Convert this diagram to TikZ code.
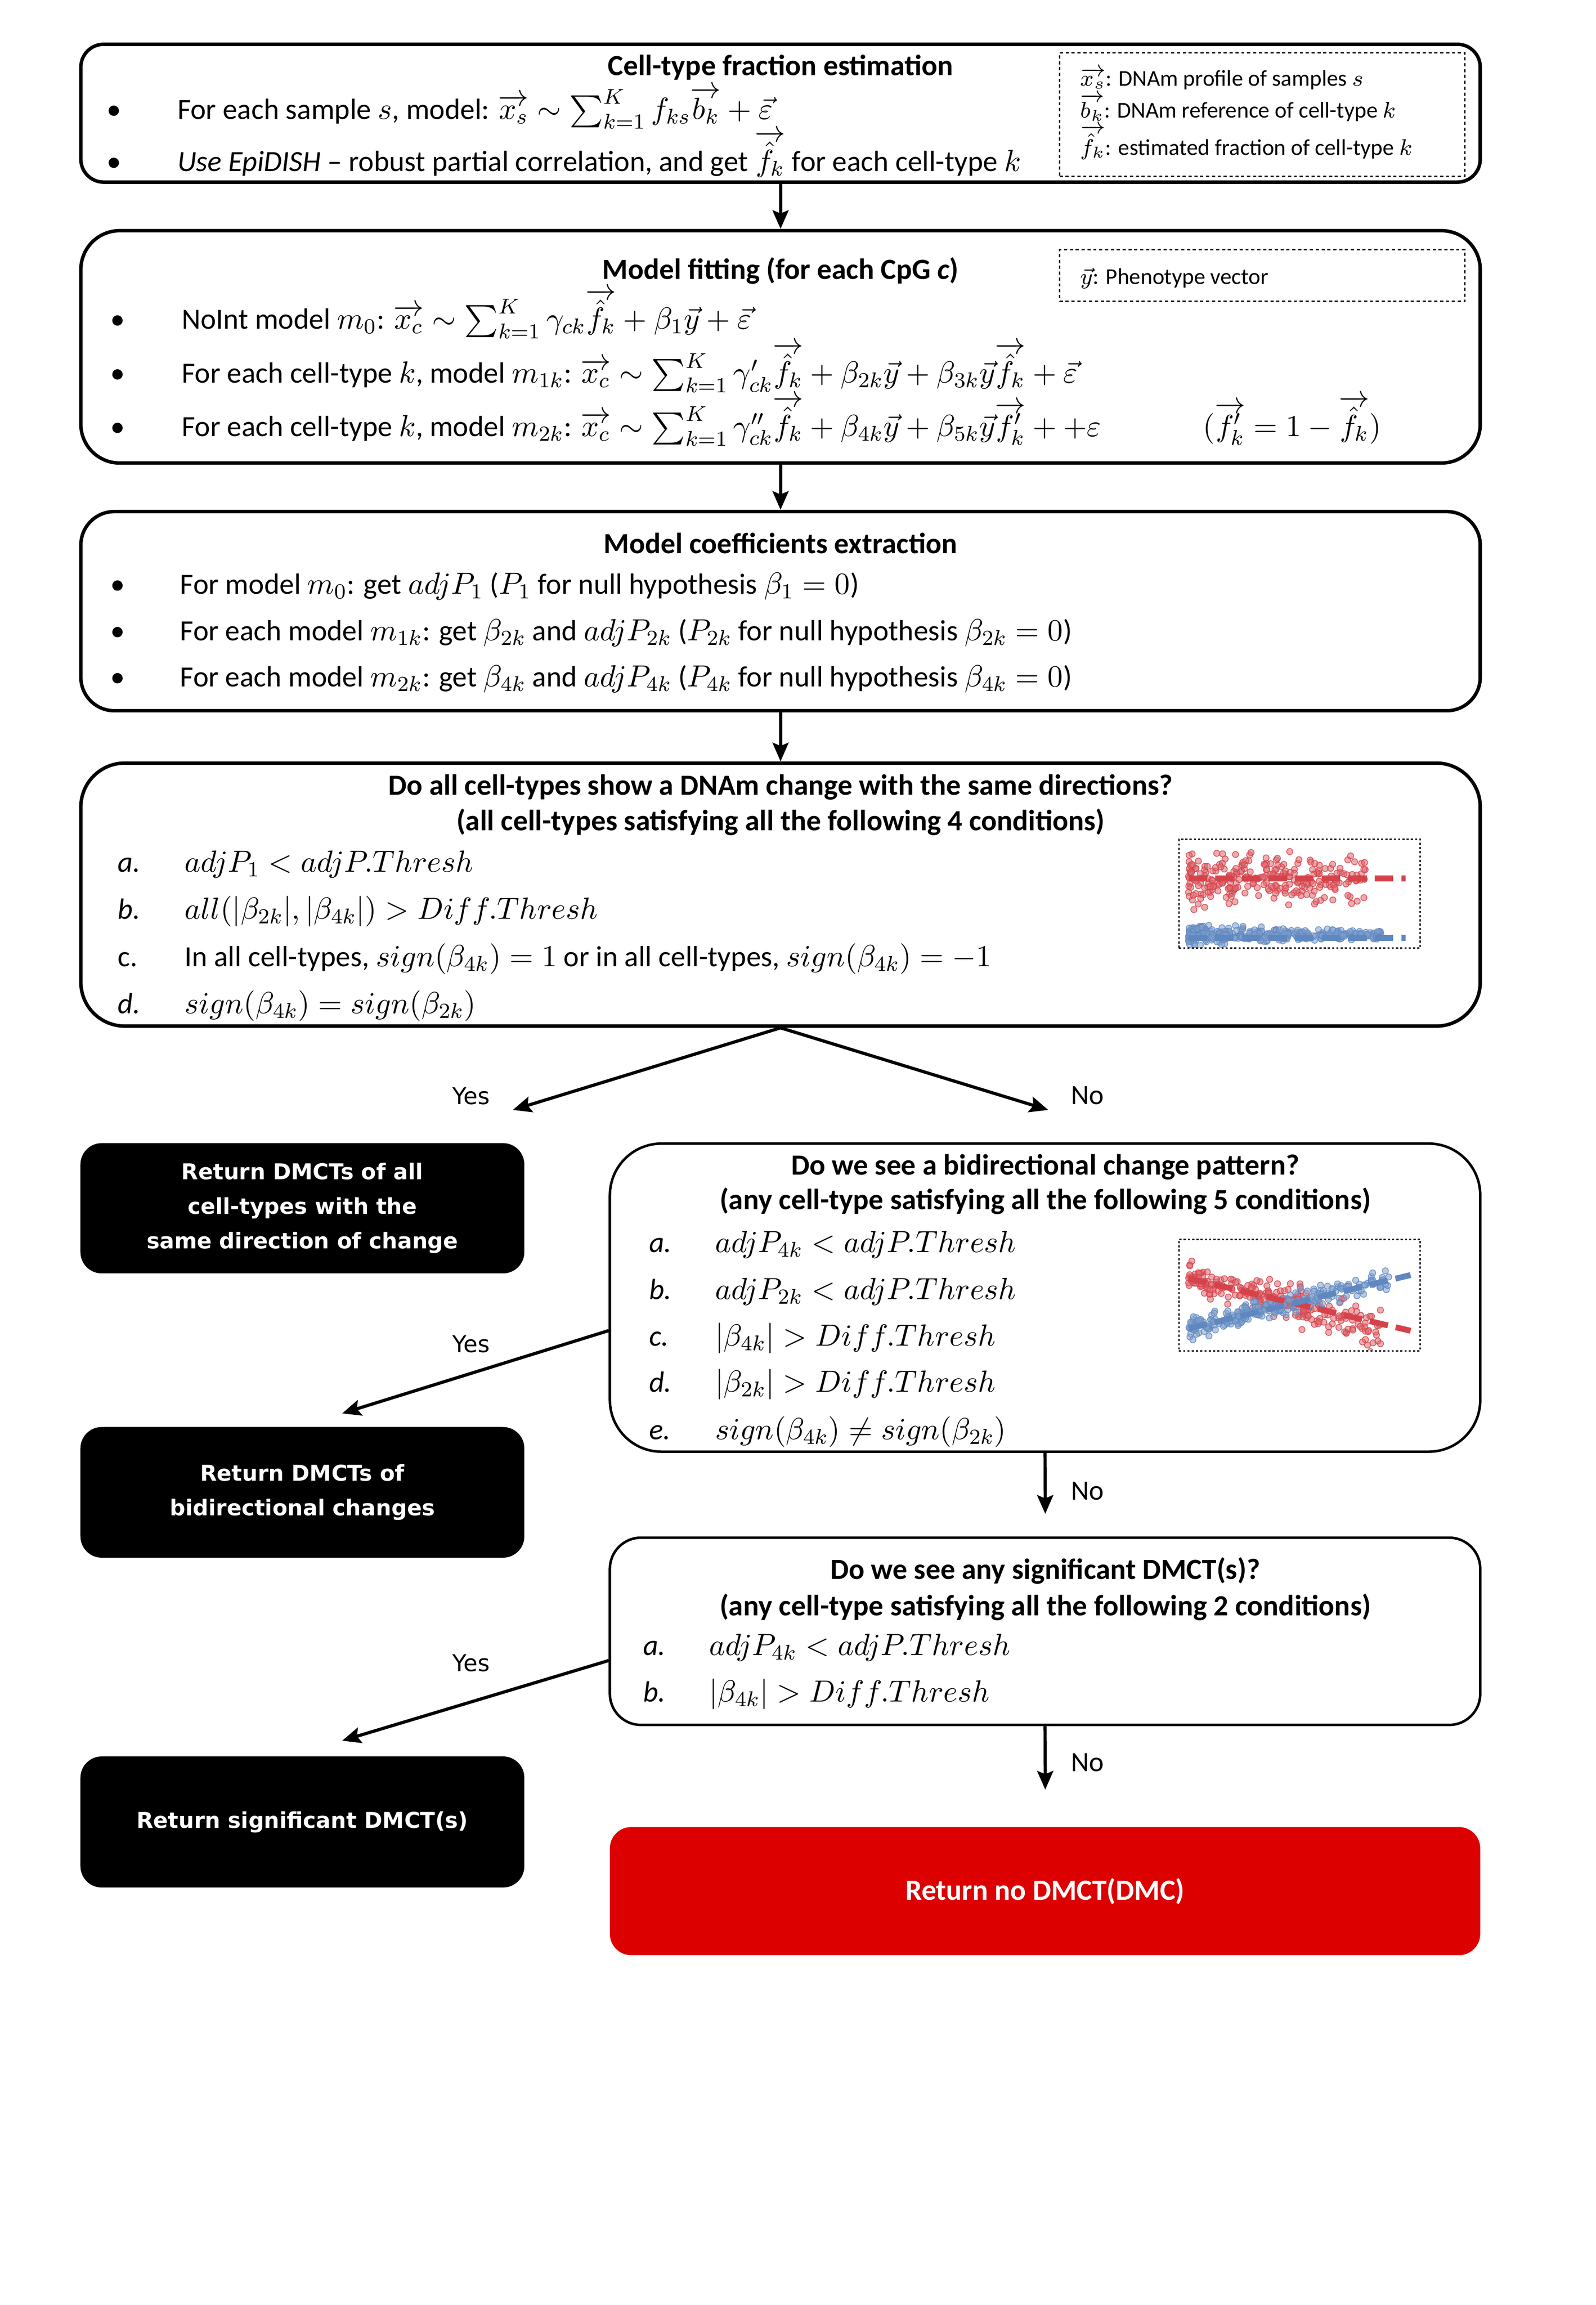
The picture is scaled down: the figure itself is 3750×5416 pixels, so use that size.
\RequirePackage{fix-cm}
\documentclass[tikz,border=0pt]{standalone}
\usepackage{amsmath}
\usepackage{fontspec}
\setmainfont{Carlito}
\newfontfamily\vfont{DejaVu Sans}
\usetikzlibrary{arrows.meta,fit,calc}
\definecolor{redpt}{RGB}{214,66,74}
\definecolor{bluept}{RGB}{96,136,192}
\definecolor{nored}{RGB}{221,0,0}
\newcommand\mth[1]{{\fontsize{11.5}{13.5}\selectfont$#1$}}
\newcommand\oa[1]{\smash{\overrightarrow{#1}}\vphantom{#1}}
\tikzset{
 box/.style={draw, line width=1.3pt, inner sep=0pt},
 boxb/.style={draw, line width=0.95pt, inner sep=0pt},
 blk/.style={fill=black, draw=none, inner sep=0pt, rounded corners=8pt},
 dbox/.style={draw, line width=0.5pt, dash pattern=on 1.2pt off 1pt, inner sep=0pt},
 pbox/.style={draw, line width=0.5pt, dash pattern=on 0.8pt off 0.8pt, inner sep=0pt},
 txt/.style={inner sep=0pt, font=\fontsize{11}{13}\selectfont},
 ttl/.style={inner sep=0pt, font=\fontsize{11}{13}\selectfont\bfseries},
 leg/.style={inner sep=0pt, font=\fontsize{8.5}{10}\selectfont},
 wtxt/.style={inner sep=0pt, text=white, align=center, font=\vfont\bfseries\fontsize{8.2}{13}\selectfont},
 rtxt/.style={inner sep=0pt, text=white, font=\fontsize{11}{13}\selectfont\bfseries},
 yeslab/.style={inner sep=0pt, font=\vfont\fontsize{8.7}{10}\selectfont},
 nolab/.style={inner sep=0pt, font=\fontsize{10.5}{12}\selectfont},
 arr/.style={line width=1.2pt, -{Stealth[length=7pt,width=6pt,inset=1.2pt]}},
 rdot/.style={line width=0.3pt, draw=redpt, fill=redpt!80, fill opacity=.55, draw opacity=.8},
 bdot/.style={line width=0.3pt, draw=bluept, fill=bluept!80, fill opacity=.55, draw opacity=.8},
 rtrend/.style={draw=redpt, line width=2.2pt, dash pattern=on 7pt off 3pt},
 btrend/.style={draw=bluept, line width=2.2pt, dash pattern=on 7pt off 3pt},
}
\begin{document}
\begin{tikzpicture}[x=0.16pt,y=-0.16pt]
\useasboundingbox (0,0) rectangle (3750,5416);
\fill[white] (0,0) rectangle (3750,5416);

% ---------- Box 1
\node[box, rounded corners=8.6pt, fit={(190,104) (3478,428)}] (b1) {};
\node[dbox, fit={(2490,124) (3442,414)}] (lg1) {};
\node[ttl, anchor=base] (t1) at (1834,177) {Cell-type fraction estimation};
\node[txt, anchor=base] (u11) at (268,280) {•};
\node[txt, anchor=base west] (l11) at (416,280) {For each sample \mth{s}, model: \mth{\oa{x_s} \sim \sum_{k=1}^{K} f_{ks}\oa{b_k} + \vec{\varepsilon}}};
\node[txt, anchor=base] (u12) at (268,402) {•};
\node[txt, anchor=base west] (l12) at (416,402) {\textit{Use EpiDISH} – robust partial correlation, and get \mth{\oa{\hat{f}_k}} for each cell-type \mth{k}};
\node[leg, anchor=base west] (g11) at (2537,202) {$\oa{x_s}$: DNAm profile of samples $s$};
\node[leg, anchor=base west] (g12) at (2537,277) {$\oa{b_k}$: DNAm reference of cell-type $k$};
\node[leg, anchor=base west] (g13) at (2537,364) {$\oa{\hat{f}_k}$: estimated fraction of cell-type $k$};

% ---------- Box 2
\node[box, rounded corners=14.6pt, fit={(190,542) (3478,1088)}] (b2) {};
\node[dbox, fit={(2490,587) (3442,708)}] (lg2) {};
\node[ttl, anchor=base] (t2) at (1834,656) {Model fitting (for each CpG \textit{c})};
\node[leg, anchor=base west] (g21) at (2537,668) {$\vec{y}$: Phenotype vector};
\node[txt, anchor=base] (u21) at (276,773) {•};
\node[txt, anchor=base west] (l21) at (426,773) {NoInt model \mth{m_0}: \mth{\oa{x_c} \sim \sum_{k=1}^{K}\gamma_{ck}\oa{\hat{f}_k} + \beta_1\vec{y} + \vec{\varepsilon}}};
\node[txt, anchor=base] (u22) at (276,900) {•};
\node[txt, anchor=base west] (l22) at (426,900) {For each cell-type \mth{k}, model \mth{m_{1k}}: \mth{\oa{x_c} \sim \sum_{k=1}^{K}\gamma'_{ck}\oa{\hat{f}_k} + \beta_{2k}\vec{y} + \beta_{3k}\vec{y}\oa{\hat{f}_k} + \vec{\varepsilon}}};
\node[txt, anchor=base] (u23) at (276,1025) {•};
\node[txt, anchor=base west] (l23) at (426,1025) {For each cell-type \mth{k}, model \mth{m_{2k}}: \mth{\oa{x_c} \sim \sum_{k=1}^{K}\gamma''_{ck}\oa{\hat{f}_k} + \beta_{4k}\vec{y} + \beta_{5k}\vec{y}\oa{f'_k} + {+}\varepsilon}};
\node[txt, anchor=base] (r23) at (3036,1025) {\mth{(\oa{f'_k} = 1 - \oa{\hat{f}_k})}};

% ---------- Box 3
\node[box, rounded corners=12.6pt, fit={(190,1202) (3478,1670)}] (b3) {};
\node[ttl, anchor=base] (t3) at (1834,1300) {Model coefficients extraction};
\node[txt, anchor=base] (u31) at (276,1396) {•};
\node[txt, anchor=base west] (l31) at (422,1396) {For model \mth{m_0}: get \mth{adjP_1} (\mth{P_1} for null hypothesis \mth{\beta_1 = 0})};
\node[txt, anchor=base] (u32) at (276,1505) {•};
\node[txt, anchor=base west] (l32) at (422,1505) {For each model \mth{m_{1k}}: get \mth{\beta_{2k}} and \mth{adjP_{2k}} (\mth{P_{2k}} for null hypothesis \mth{\beta_{2k} = 0})};
\node[txt, anchor=base] (u33) at (276,1613) {•};
\node[txt, anchor=base west] (l33) at (422,1613) {For each model \mth{m_{2k}}: get \mth{\beta_{4k}} and \mth{adjP_{4k}} (\mth{P_{4k}} for null hypothesis \mth{\beta_{4k} = 0})};

% ---------- Box 4
\node[box, rounded corners=16.5pt, fit={(190,1793) (3478,2411)}] (b4) {};
\node[ttl, anchor=base] (t41) at (1834,1868) {Do all cell-types show a DNAm change with the same directions?};
\node[ttl, anchor=base] (t42) at (1834,1951) {(all cell-types satisfying all the following 4 conditions)};
\node[txt, anchor=base west] (a4) at (276,2049) {\textit{a.}};
\node[txt, anchor=base west] (ca4) at (433,2049) {\mth{adjP_1 < adjP.Thresh}};
\node[txt, anchor=base west] (b4l) at (276,2159) {\textit{b.}};
\node[txt, anchor=base west] (cb4) at (433,2159) {\mth{all(|\beta_{2k}|, |\beta_{4k}|) > Diff.Thresh}};
\node[txt, anchor=base west] (c4) at (276,2271) {c.};
\node[txt, anchor=base west] (cc4) at (433,2271) {In all cell-types, \mth{sign(\beta_{4k}) = 1} or in all cell-types, \mth{sign(\beta_{4k}) = -1}};
\node[txt, anchor=base west] (d4) at (276,2381) {\textit{d.}};
\node[txt, anchor=base west] (cd4) at (433,2381) {\mth{sign(\beta_{4k}) = sign(\beta_{2k})}};

% connectors between the top boxes
\draw[arr] (b1.south) -- (b2.north);
\draw[arr] (b2.south) -- (b3.north);
\draw[arr] (b3.south) -- (b4.north);

% scatter 1
\begin{scope}
\clip (2772,1974) rectangle (3335,2226);
\pgfmathsetseed{11}
\foreach \i in {1,...,270}{
  \pgfmathsetmacro\qu{rnd^1.25}
  \pgfmathsetmacro\qx{2770+567*(0.04+0.74*\qu)}
  \pgfmathsetmacro\qy{1972+256*(0.37+0.10*(rand+rand)+0.13*rand)}
  \filldraw[rdot] (\qx,\qy) circle[radius=1.15pt];
}
\draw[rtrend] ({2770+567*0.04},{1972+256*0.36}) -- ({2770+567*0.94},{1972+256*0.36});
\foreach \i in {1,...,340}{
  \pgfmathsetmacro\qu{rnd^1.7}
  \pgfmathsetmacro\qx{2770+567*(0.04+0.80*\qu)}
  \pgfmathsetmacro\qy{1972+256*(0.875+(0.045*(rand+rand)+0.02*rand)*(1-0.5*\qu))}
  \filldraw[bdot] (\qx,\qy) circle[radius=1.15pt];
}
\draw[btrend] ({2770+567*0.04},{1972+256*0.905}) -- ({2770+567*0.94},{1972+256*0.905});
\end{scope}
\node[pbox, fit={(2770,1972) (3337,2228)}] (p1) {};

% ---------- Decision arrows from box 4
\coordinate (ty1) at (1205,2608);
\coordinate (tn1) at (2463,2608);
\draw[arr] (b4.south) -- (ty1);
\draw[arr] (b4.south) -- (tn1);
\node[yeslab, anchor=base] (y1) at (1107,2595) {Yes};
\node[nolab, anchor=base] (n1) at (2555,2595) {No};

% ---------- Black box A
\node[blk, fit={(189,2686) (1232,2992)}] (ra) {};
\node[wtxt] (rat) at (ra.center) {Return DMCTs of all\\cell-types with the\\same direction of change};

% ---------- Box 5
\node[boxb, rounded corners=19.4pt, fit={(1433,2687) (3478,3411)}] (b5) {};
\node[ttl, anchor=base] (t51) at (2456,2760) {Do we see a bidirectional change pattern?};
\node[ttl, anchor=base] (t52) at (2456,2842) {(any cell-type satisfying all the following 5 conditions)};
\node[txt, anchor=base west] (a5) at (1524,2942) {\textit{a.}};
\node[txt, anchor=base west] (ca5) at (1679,2942) {\mth{adjP_{4k} < adjP.Thresh}};
\node[txt, anchor=base west] (b5l) at (1524,3053) {\textit{b.}};
\node[txt, anchor=base west] (cb5) at (1679,3053) {\mth{adjP_{2k} < adjP.Thresh}};
\node[txt, anchor=base west] (c5) at (1524,3162) {\textit{c.}};
\node[txt, anchor=base west] (cc5) at (1679,3162) {\mth{|\beta_{4k}| > Diff.Thresh}};
\node[txt, anchor=base west] (d5) at (1524,3271) {\textit{d.}};
\node[txt, anchor=base west] (cd5) at (1679,3271) {\mth{|\beta_{2k}| > Diff.Thresh}};
\node[txt, anchor=base west] (e5) at (1524,3382) {\textit{e.}};
\node[txt, anchor=base west] (ce5) at (1679,3382) {\mth{sign(\beta_{4k}) \neq sign(\beta_{2k})}};

% scatter 2
\begin{scope}
\clip (2772,2914) rectangle (3335,3172);
\pgfmathsetseed{23}
\foreach \i in {1,...,240}{
  \pgfmathsetmacro\qu{rnd^1.15}
  \pgfmathsetmacro\qx{2770+567*(0.04+0.80*\qu)}
  \pgfmathsetmacro\qy{2912+262*(0.33+0.47*\qu+(0.07*(rand+rand)+0.06*rand)*(0.8+0.7*\qu))}
  \filldraw[rdot] (\qx,\qy) circle[radius=1.15pt];
}
\foreach \i in {1,...,240}{
  \pgfmathsetmacro\qu{rnd^1.25}
  \pgfmathsetmacro\qx{2770+567*(0.04+0.84*\qu)}
  \pgfmathsetmacro\qy{2912+262*(0.80-0.45*\qu+0.05*(rand+rand)+0.04*rand)}
  \filldraw[bdot] (\qx,\qy) circle[radius=1.15pt];
}
\draw[rtrend] ({2770+567*0.04},{2912+262*0.35}) -- ({2770+567*0.96},{2912+262*0.82});
\draw[btrend] ({2770+567*0.04},{2912+262*0.80}) -- ({2770+567*0.96},{2912+262*0.32});
\end{scope}
\node[pbox, fit={(2770,2912) (3337,3174)}] (p2) {};

% ---------- arrows from box 5
\coordinate (ty2) at (804,3321);
\draw[arr] ([yshift=-12.4pt]b5.west) -- (ty2);
\node[yeslab, anchor=base] (y2) at (1107,3178) {Yes};
\coordinate (tn2) at (2456,3557);
\draw[arr] (b5.south) -- (tn2);
\node[nolab, anchor=base] (n2) at (2555,3524) {No};

% ---------- Black box B
\node[blk, fit={(189,3353) (1232,3660)}] (rb) {};
\node[wtxt] (rbt) at (rb.center) {Return DMCTs of\\bidirectional changes};

% ---------- Box 6
\node[boxb, rounded corners=11.7pt, fit={(1433,3613) (3478,4053)}] (b6) {};
\node[ttl, anchor=base] (t61) at (2456,3710) {Do we see any significant DMCT(s)?};
\node[ttl, anchor=base] (t62) at (2456,3796) {(any cell-type satisfying all the following 2 conditions)};
\node[txt, anchor=base west] (a6) at (1510,3889) {\textit{a.}};
\node[txt, anchor=base west] (ca6) at (1665,3889) {\mth{adjP_{4k} < adjP.Thresh}};
\node[txt, anchor=base west] (b6l) at (1510,3999) {\textit{b.}};
\node[txt, anchor=base west] (cb6) at (1665,3999) {\mth{|\beta_{4k}| > Diff.Thresh}};

% ---------- arrows from box 6
\coordinate (ty3) at (804,4090);
\draw[arr] ([yshift=-11pt]b6.west) -- (ty3);
\node[yeslab, anchor=base] (y3) at (1107,3927) {Yes};
\coordinate (tn3) at (2456,4205);
\draw[arr] (b6.south) -- (tn3);
\node[nolab, anchor=base] (n3) at (2555,4162) {No};

% ---------- Black box C
\node[blk, fit={(189,4127) (1232,4435)}] (rc) {};
\node[wtxt] (rct) at (rc.center) {Return significant DMCT(s)};

% ---------- Red box
\node[fill=nored, draw=none, inner sep=0pt, rounded corners=8pt, fit={(1433,4293) (3478,4594)}] (rn) {};
\node[rtxt] (rnt) at (rn.center) {Return no DMCT(DMC)};
\end{tikzpicture}
\end{document}
